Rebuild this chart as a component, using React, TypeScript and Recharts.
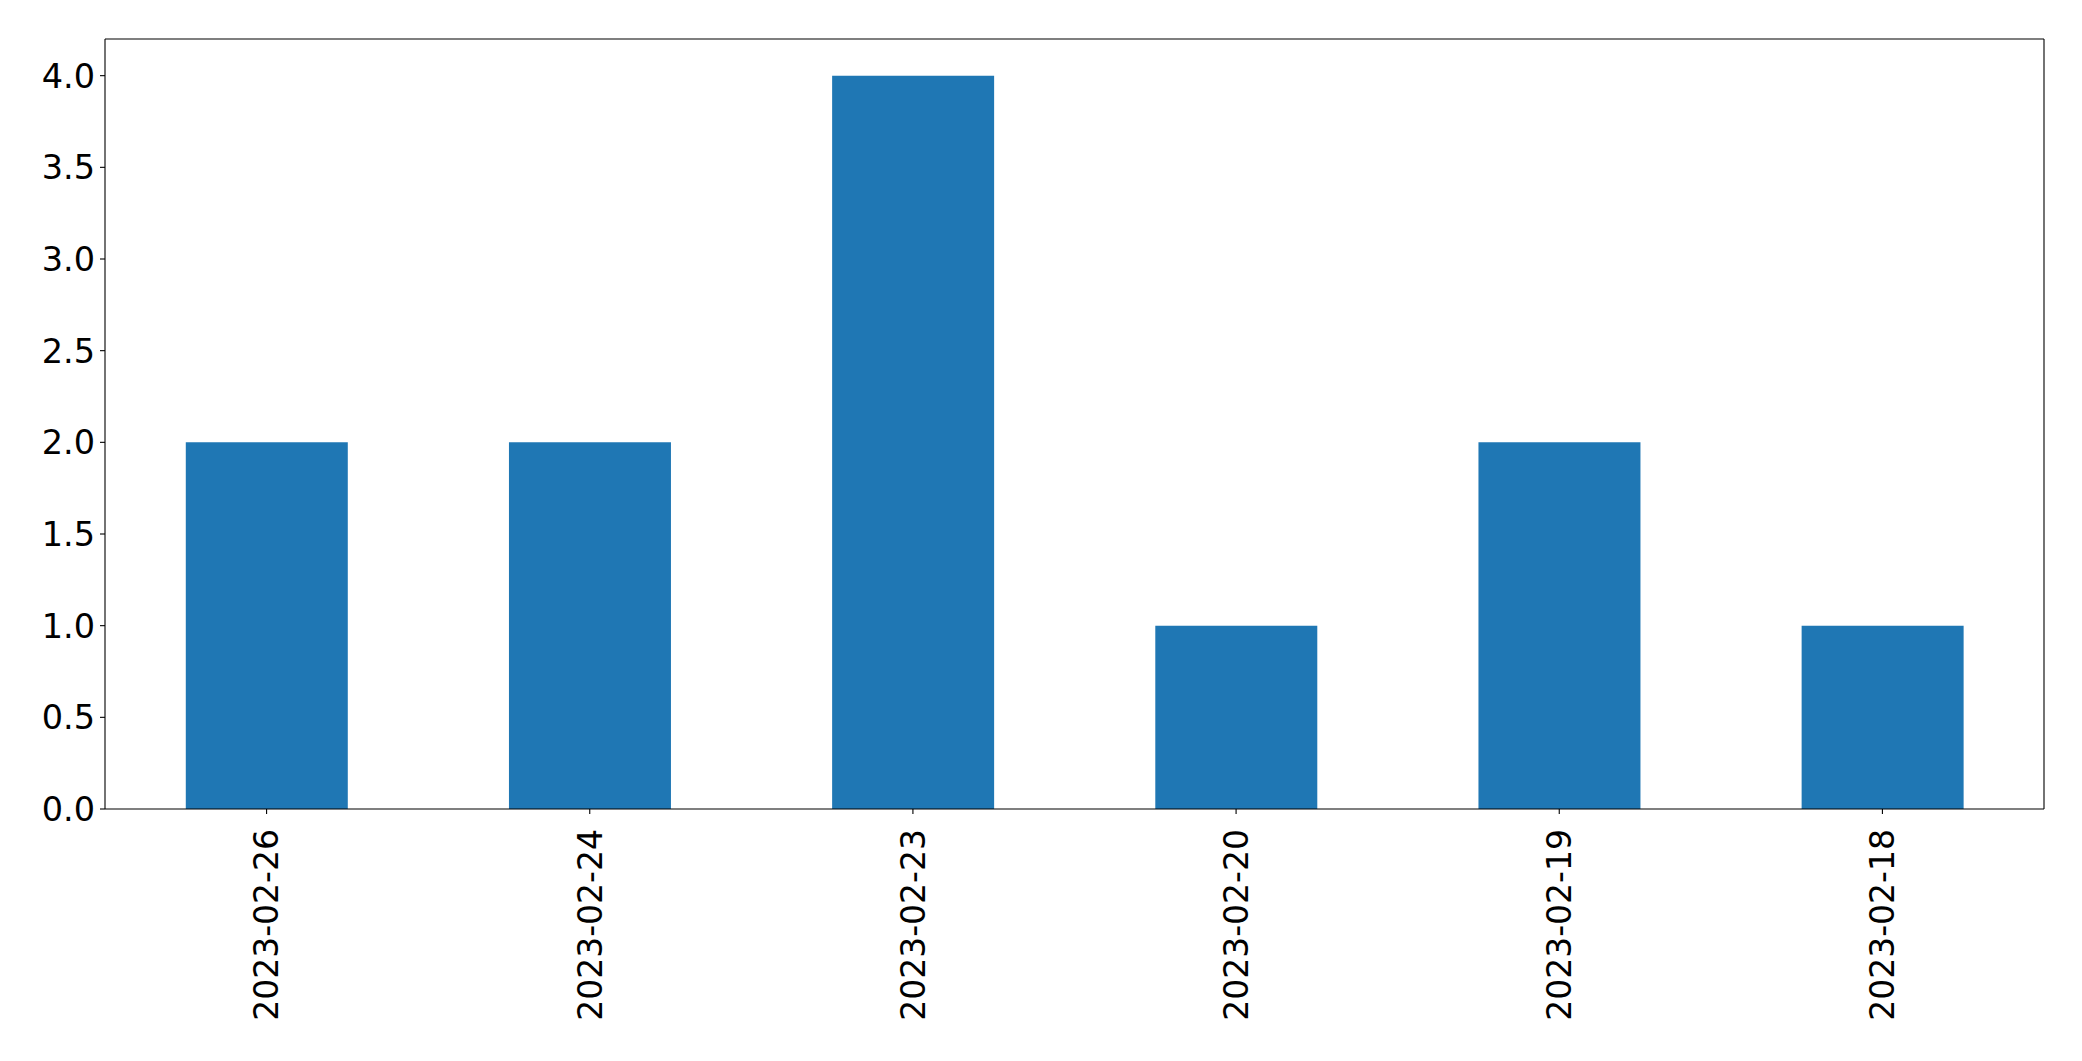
import React from "react";
import { ComposedChart, Bar, Line, XAxis, YAxis } from "recharts";

const categories = ["2023-02-26", "2023-02-24", "2023-02-23", "2023-02-20", "2023-02-19", "2023-02-18"];
const counts = [2, 2, 4, 1, 2, 1];
const yTicks = [0, 0.5, 1, 1.5, 2, 2.5, 3, 3.5, 4];

const data = categories.map((c, i) => ({ date: c, value: counts[i] }));

const FONT = "'DejaVu Sans', sans-serif";

const XTick = (props: any) => {
  const { x, y, payload } = props;
  const ay = y + 13;
  return (
    <text
      x={x}
      y={ay}
      transform={`rotate(-90, ${x}, ${ay})`}
      textAnchor="end"
      dy="0.36em"
      fontFamily={FONT}
      fontSize={33}
      fill="#000"
    >
      {payload.value}
    </text>
  );
};

const YTick = (props: any) => {
  const { x, y, payload } = props;
  return (
    <text
      x={x}
      y={y}
      textAnchor="end"
      dy="0.36em"
      fontFamily={FONT}
      fontSize={33.5}
      fill="#000"
    >
      {Number(payload.value).toFixed(1)}
    </text>
  );
};

export default function App() {
  return (
    <div style={{ position: "absolute", left: 0, top: 0, width: 2082, height: 1061, background: "#fff" }}>
      <ComposedChart
        width={2082}
        height={1061}
        data={data}
        margin={{ top: 38, right: 37, bottom: 0, left: 0 }}
        barCategoryGap="25%"
      >
        <XAxis
          dataKey="date"
          height={252}
          interval={0}
          stroke="#000"
          tick={<XTick />}
          tickSize={5}
          tickLine={{ stroke: "#000", strokeWidth: 1.1 }}
          axisLine={{ stroke: "#000", strokeWidth: 1.1 }}
        />
        <XAxis
          xAxisId="top"
          dataKey="date"
          orientation="top"
          height={1}
          stroke="#000"
          tick={false}
          tickLine={false}
          axisLine={{ stroke: "#000", strokeWidth: 1.1 }}
        />
        <YAxis
          width={105}
          domain={[0, 4.2]}
          ticks={yTicks}
          interval={0}
          stroke="#000"
          tickSize={5}
          tickMargin={5}
          tick={<YTick />}
          tickLine={{ stroke: "#000", strokeWidth: 1.1 }}
          axisLine={{ stroke: "#000", strokeWidth: 1.1 }}
        />
        <YAxis
          yAxisId="right"
          orientation="right"
          width={1}
          domain={[0, 4.2]}
          stroke="#000"
          tick={false}
          tickLine={false}
          axisLine={{ stroke: "#000", strokeWidth: 1.1 }}
        />
        <Bar dataKey="value" fill="#1f77b4" isAnimationActive={false} />
        <Line
          xAxisId="top"
          yAxisId="right"
          dataKey="value"
          stroke="none"
          dot={false}
          activeDot={false}
          isAnimationActive={false}
        />
      </ComposedChart>
    </div>
  );
}
